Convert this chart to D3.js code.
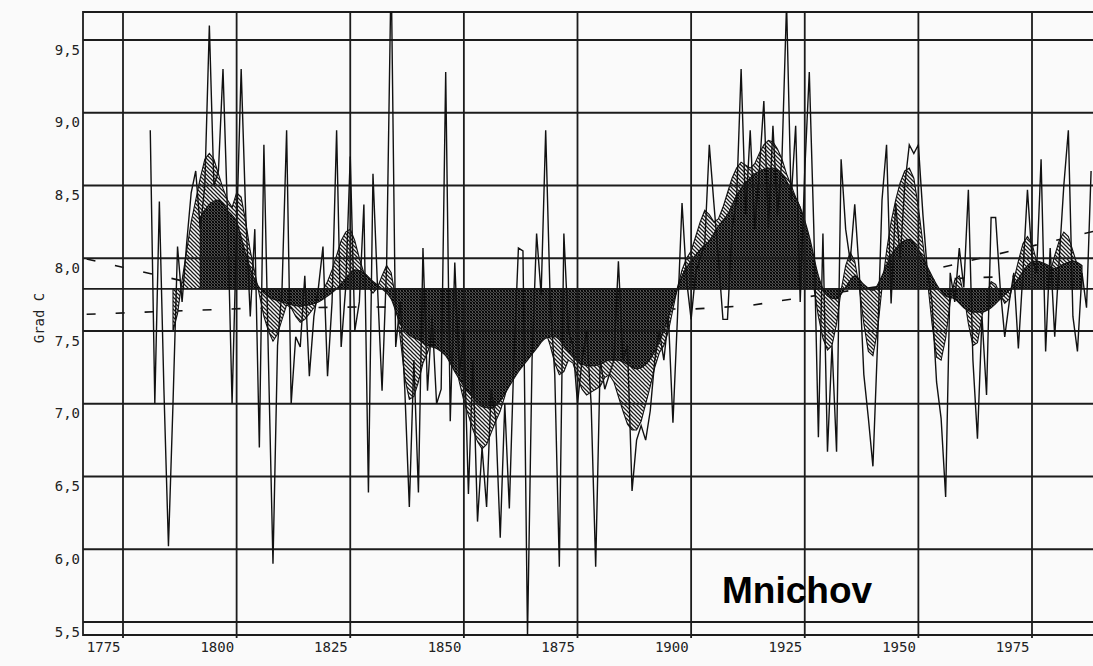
<!DOCTYPE html>
<html>
<head>
<meta charset="utf-8">
<script src="https://cdn.jsdelivr.net/npm/d3@7"></script>
<style>
  body { margin: 0; background: #fafafa; }
  svg { display: block; }
  .axis text { font-family: "DejaVu Sans Mono", monospace; fill: #222; }
  .axis .domain { display: none; }
</style>
</head>
<body>
<div id="chart"></div>
<script>
// annual mean temperature, Munich (Grad C), one value per year from startYear
const startYear = 1781;
const annualTemps = [
  8.88, 7.0, 8.39, 7.1, 6.02, 7.0, 8.08, 7.7, 8.1, 8.45,
  8.6, 8.2, 8.5, 9.6, 8.5, 8.6, 9.3, 8.3, 7.0, 8.2,
  9.3, 8.3, 7.6, 8.2, 6.7, 8.78, 7.3, 5.9, 7.4, 7.8,
  8.88, 7.0, 7.46, 7.39, 7.88, 7.19, 7.6, 7.8, 8.08, 7.19,
  7.7, 8.88, 7.39, 7.8, 8.7, 7.5, 7.7, 8.37, 6.39, 8.58,
  7.8, 7.09, 7.95, 10.0, 7.39, 7.7, 7.1, 6.29, 7.3, 6.39,
  8.07, 7.09, 7.6, 7.0, 7.1, 9.28, 6.88, 7.97, 7.2, 7.5,
  6.38, 7.3, 6.19, 6.7, 6.29, 7.1, 6.9, 6.08, 7.0, 6.28,
  7.3, 8.07, 8.05, 5.4, 7.3, 8.17, 7.75, 8.88, 7.7, 7.2,
  5.88, 8.17, 7.5, 7.4, 7.0, 7.3, 7.5, 7.0, 5.88, 7.3,
  7.1, 7.2, 7.3, 7.98, 7.3, 7.4, 6.4, 6.75, 6.85, 6.75,
  6.95, 7.3, 7.5, 7.3, 7.6, 6.87, 7.6, 8.38, 7.85, 7.58,
  7.9, 8.0, 8.1, 8.78, 8.38, 8.0, 7.58, 7.58, 8.2, 8.4,
  9.3, 8.3, 8.88, 8.2, 8.6, 9.08, 8.2, 8.91, 8.3, 8.7,
  9.75, 8.4, 8.91, 7.7, 8.6, 9.28, 8.2, 6.77, 8.17, 6.67,
  7.4, 6.67, 8.68, 8.2, 7.98, 8.37, 7.9, 7.2, 6.9, 6.57,
  7.4, 8.4, 8.78, 7.69, 8.38, 8.0, 8.5, 8.78, 8.72, 8.78,
  8.3, 7.9, 7.7, 7.15, 6.9, 6.36, 7.9, 7.7, 8.07, 7.8,
  8.47, 7.3, 6.76, 7.6, 7.06, 8.28, 8.28, 7.8, 7.46, 7.7,
  7.9, 7.38, 7.9, 8.47, 8.0, 7.9, 8.68, 7.36, 8.07, 7.46,
  8.0, 8.5, 8.88, 7.6, 7.36, 7.9, 7.66, 8.6
];

// short smoothing (hatched), one value per year from shortStart
const shortStart = 1786;
const shortSmooth = [
  7.50, 7.62, 7.85, 8.05, 8.25, 8.40, 8.55, 8.68, 8.72, 8.68,
  8.58, 8.48, 8.40, 8.35, 8.45, 8.42, 8.25, 8.05, 7.90, 7.75,
  7.60, 7.50, 7.43, 7.48, 7.58, 7.68, 7.66, 7.60, 7.56, 7.58,
  7.62, 7.66, 7.72, 7.78, 7.84, 7.92, 8.02, 8.12, 8.18, 8.20,
  8.12, 8.00, 7.90, 7.80, 7.76, 7.80, 7.88, 7.95, 7.90, 7.72,
  7.45, 7.18, 7.03, 7.05, 7.15, 7.28, 7.35, 7.45, 7.55, 7.62,
  7.60, 7.48, 7.30, 7.15, 7.02, 6.92, 6.82, 6.74, 6.69, 6.72,
  6.80, 6.88, 6.95, 7.05, 7.18, 7.30, 7.40, 7.45, 7.42, 7.45,
  7.50, 7.52, 7.50, 7.40, 7.28, 7.20, 7.22, 7.30, 7.28, 7.18,
  7.10, 7.06, 7.08, 7.10, 7.12, 7.18, 7.20, 7.15, 7.05, 6.95,
  6.86, 6.82, 6.82, 6.88, 7.00, 7.12, 7.25, 7.35, 7.40, 7.50,
  7.65, 7.80, 7.92, 8.00, 8.05, 8.15, 8.25, 8.33, 8.30, 8.25,
  8.27, 8.35, 8.45, 8.55, 8.62, 8.66, 8.64, 8.62, 8.65, 8.72,
  8.78, 8.81, 8.80, 8.75, 8.68, 8.58, 8.50, 8.42, 8.35, 8.20,
  8.00, 7.80, 7.60, 7.45, 7.37, 7.40, 7.55, 7.78, 7.95, 8.04,
  7.98, 7.80, 7.55, 7.36, 7.33, 7.50, 7.80, 8.05, 8.25, 8.40,
  8.52, 8.60, 8.62, 8.55, 8.35, 8.10, 7.85, 7.55, 7.32, 7.30,
  7.45, 7.70, 7.85, 7.88, 7.75, 7.55, 7.40, 7.42, 7.60, 7.75,
  7.84, 7.82, 7.75, 7.69, 7.72, 7.85, 7.98, 8.10, 8.15, 8.10,
  7.98, 7.85, 7.82, 7.90, 8.02, 8.12, 8.18, 8.15, 8.05, 7.95
];

// long smoothing (dark), [year, value]
const longSmooth = [
  [1792, 8.28], [1794, 8.37], [1796, 8.40], [1798, 8.33], [1800, 8.25],
  [1802, 8.03], [1804, 7.85], [1806, 7.76], [1808, 7.72], [1810, 7.70],
  [1812, 7.68], [1814, 7.67], [1816, 7.68], [1818, 7.70], [1820, 7.74],
  [1822, 7.79], [1824, 7.86], [1826, 7.92], [1828, 7.90], [1830, 7.84],
  [1832, 7.79], [1834, 7.72], [1836, 7.55], [1838, 7.47], [1840, 7.44],
  [1842, 7.40], [1844, 7.38], [1846, 7.33], [1848, 7.22], [1850, 7.12],
  [1852, 7.04], [1854, 6.98], [1856, 6.97], [1858, 7.02], [1860, 7.12],
  [1862, 7.22], [1864, 7.30], [1866, 7.38], [1868, 7.45], [1870, 7.46],
  [1872, 7.40], [1874, 7.32], [1876, 7.27], [1878, 7.26], [1880, 7.27],
  [1882, 7.30], [1884, 7.30], [1886, 7.27], [1888, 7.24], [1890, 7.27],
  [1892, 7.36], [1894, 7.50], [1896, 7.69], [1898, 7.88], [1900, 7.98],
  [1902, 8.06], [1904, 8.12], [1906, 8.22], [1908, 8.30], [1910, 8.43],
  [1912, 8.52], [1914, 8.58], [1916, 8.61], [1918, 8.62], [1920, 8.58],
  [1922, 8.47], [1924, 8.35], [1926, 8.15], [1928, 7.88], [1930, 7.74],
  [1932, 7.72], [1934, 7.80], [1936, 7.88], [1938, 7.82], [1940, 7.78],
  [1942, 7.88], [1944, 8.02], [1946, 8.10], [1948, 8.13], [1950, 8.06],
  [1952, 7.94], [1954, 7.82], [1956, 7.74], [1958, 7.72], [1960, 7.66],
  [1962, 7.63], [1964, 7.63], [1966, 7.66], [1968, 7.72], [1970, 7.78],
  [1972, 7.86], [1974, 7.95], [1976, 7.98], [1978, 7.96], [1980, 7.93],
  [1982, 7.96], [1984, 7.98], [1986, 7.95]
];

const meanTemp = 7.79;

// dashed trend lines, [year, value]
const trendEarly = [[1767, 7.995], [1788, 7.845]];
const trendLong = [
  [1767, 7.615], [1802, 7.655], [1827, 7.665], [1870, 7.66], [1900, 7.65],
  [1913, 7.675], [1919, 7.705], [1940, 7.80], [1957, 7.86], [1972, 7.877], [1988, 7.88]
];
const trendLate = [[1955.5, 7.94], [1992, 8.21]];

const yearTicks = [1775, 1800, 1825, 1850, 1875, 1900, 1925, 1950, 1975];
const tempTicks = [5.5, 6.0, 6.5, 7.0, 7.5, 8.0, 8.5, 9.0, 9.5];

const width = 1093, height = 666;
const plotLeft = 83, plotTop = 12, plotBottom = 635, plotRight = 1110;

const svg = d3.select('#chart').append('svg')
  .attr('width', width)
  .attr('height', height);

const x = d3.scaleLinear().domain([1775, 1975]).range([123, 1032]);
const y = d3.scaleLinear().domain([5.5, 9.5]).range([622, 40]);

const defs = svg.append('defs');
defs.append('clipPath').attr('id', 'plot')
  .append('rect')
  .attr('x', plotLeft).attr('y', plotTop)
  .attr('width', plotRight - plotLeft).attr('height', plotBottom - plotTop);

// light diagonal hatch
const hatch = defs.append('pattern').attr('id', 'hatch')
  .attr('patternUnits', 'userSpaceOnUse').attr('width', 4).attr('height', 4);
hatch.append('rect').attr('width', 4).attr('height', 4).attr('fill', '#fafafa');
hatch.append('path')
  .attr('d', 'M-1,-1L5,5M3,-1L5,1M-1,3L1,5')
  .attr('stroke', '#1a1a1a').attr('stroke-width', 1.25);

// dense cross hatch
const dense = defs.append('pattern').attr('id', 'dense')
  .attr('patternUnits', 'userSpaceOnUse').attr('width', 3).attr('height', 3);
dense.append('rect').attr('width', 3).attr('height', 3).attr('fill', '#fafafa');
dense.append('path')
  .attr('d', 'M-1,-1L4,4M2,-1L4,1M-1,2L1,4')
  .attr('stroke', '#000').attr('stroke-width', 1.6);
dense.append('path')
  .attr('d', 'M-1,1L1,-1M-1,4L4,-1M2,4L4,2')
  .attr('stroke', '#111').attr('stroke-width', 0.9);

const plot = svg.append('g').attr('clip-path', 'url(#plot)');

// trend lines (under the areas)
const trendLine = d3.line().x(d => x(d[0])).y(d => y(d[1]));
plot.selectAll('.trend')
  .data([trendEarly, trendLong, trendLate])
  .join('path')
  .attr('class', 'trend')
  .attr('d', trendLine)
  .attr('fill', 'none')
  .attr('stroke', '#111')
  .attr('stroke-width', 1.6)
  .attr('stroke-dasharray', '9,20');

// smoothed areas around the mean
const shortData = shortSmooth.map((v, i) => [shortStart + i, v]);
const area = d3.area()
  .x(d => x(d[0]))
  .y0(y(meanTemp))
  .y1(d => y(d[1]));

plot.append('path')
  .datum(shortData)
  .attr('d', area)
  .attr('fill', 'url(#hatch)')
  .attr('stroke', '#111')
  .attr('stroke-width', 1.1);

plot.append('path')
  .datum(longSmooth)
  .attr('d', area.curve(d3.curveMonotoneX))
  .attr('fill', 'url(#dense)')
  .attr('stroke', '#111')
  .attr('stroke-width', 1.1);

// grid
const grid = svg.append('g').attr('stroke', '#1c1c1c').attr('stroke-width', 1.8);
grid.selectAll('.hgrid')
  .data(tempTicks)
  .join('line')
  .attr('x1', plotLeft).attr('x2', width)
  .attr('y1', d => y(d)).attr('y2', d => y(d));
grid.append('line')
  .attr('x1', plotLeft).attr('x2', width)
  .attr('y1', y(meanTemp)).attr('y2', y(meanTemp));
grid.selectAll('.vgrid')
  .data(yearTicks)
  .join('line')
  .attr('x1', d => x(d)).attr('x2', d => x(d))
  .attr('y1', plotTop).attr('y2', plotBottom + 3);
// frame
grid.append('path')
  .attr('fill', 'none')
  .attr('d', `M${width},${plotTop}H${plotLeft}V${plotBottom}H${width}`);

// annual line
const annualLine = d3.line()
  .x((d, i) => x(startYear + i))
  .y(d => y(d));
svg.append('g').attr('clip-path', 'url(#plot)')
  .append('path')
  .datum(annualTemps)
  .attr('d', annualLine)
  .attr('fill', 'none')
  .attr('stroke', '#111')
  .attr('stroke-width', 1.4);

// axes
const yAxis = svg.append('g')
  .attr('class', 'axis')
  .attr('transform', `translate(${plotLeft},0)`)
  .call(d3.axisLeft(y).tickValues(tempTicks).tickSize(0).tickPadding(3)
    .tickFormat(d => d3.format('.1f')(d).replace('.', ',')));
yAxis.selectAll('text')
  .attr('font-size', 14)
  .attr('dy', 14);

const xAxis = svg.append('g')
  .attr('class', 'axis')
  .attr('transform', `translate(0,${plotBottom})`)
  .call(d3.axisBottom(x).tickValues(yearTicks).tickSize(0).tickPadding(7)
    .tickFormat(d3.format('d')));
xAxis.selectAll('text')
  .attr('font-size', 14)
  .attr('text-anchor', 'end')
  .attr('dx', -3);

svg.append('text')
  .attr('transform', 'translate(44,318) rotate(-90)')
  .attr('text-anchor', 'middle')
  .attr('font-family', '"DejaVu Sans Mono", monospace')
  .attr('font-size', 14)
  .attr('fill', '#222')
  .text('Grad C');

svg.append('text')
  .attr('x', 722)
  .attr('y', 603)
  .attr('font-family', '"Liberation Sans", Arial, sans-serif')
  .attr('font-weight', 'bold')
  .attr('font-size', 37)
  .attr('fill', '#000')
  .text('Mnichov');
</script>
</body>
</html>
